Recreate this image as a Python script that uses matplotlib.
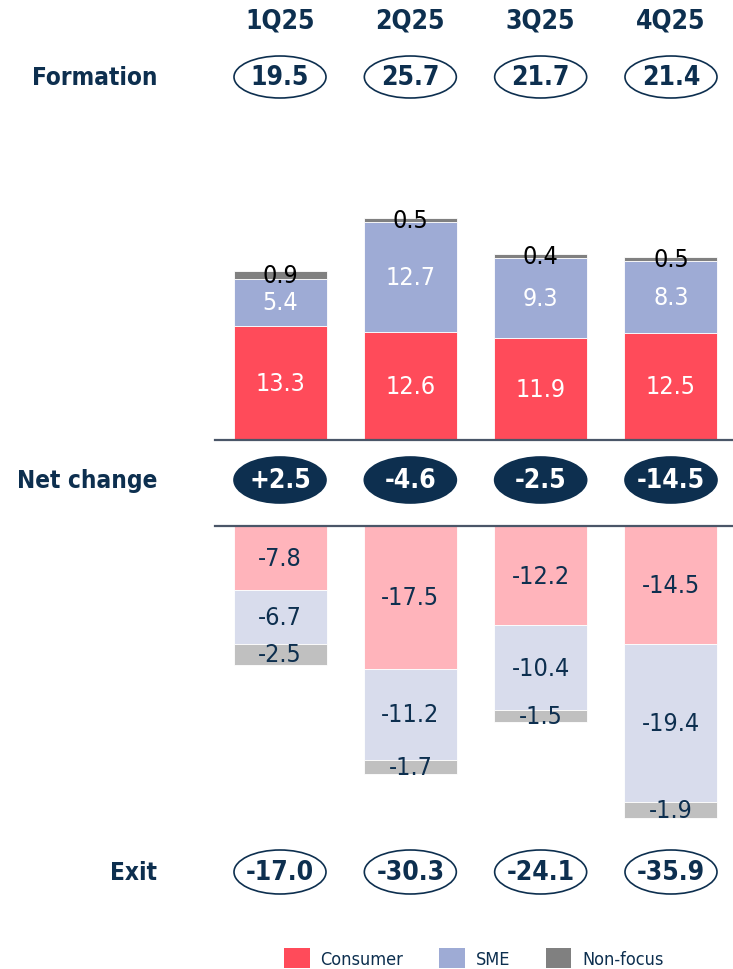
import numpy as np
import matplotlib
matplotlib.use("Agg")
import matplotlib.pyplot as plt
from matplotlib.patches import Ellipse, Patch
from matplotlib.transforms import blended_transform_factory

quarters = ["1Q25", "2Q25", "3Q25", "4Q25"]
formation_total = [19.5, 25.7, 21.7, 21.4]
form_consumer = [13.3, 12.6, 11.9, 12.5]
form_sme = [5.4, 12.7, 9.3, 8.3]
form_nonfocus = [0.9, 0.5, 0.4, 0.5]
net_change = [2.5, -4.6, -2.5, -14.5]
exit_total = [-17.0, -30.3, -24.1, -35.9]
exit_consumer = [-7.8, -17.5, -12.2, -14.5]
exit_sme = [-6.7, -11.2, -10.4, -19.4]
exit_nonfocus = [-2.5, -1.7, -1.5, -1.9]

NAVY = "#0d2f4f"
LINE = "#4a5668"
pos_colors = ["#ff4b5a", "#9eabd5", "#808080"]
neg_colors = ["#ffb4bb", "#d8dcec", "#c0c0c0"]

plt.rcParams["font.family"] = ["DejaVu Sans"]
plt.rcParams["font.stretch"] = "condensed"

W, H = 733, 970
fig = plt.figure(figsize=(W / 100, H / 100), dpi=100)


def px_rect(left, top, right, bottom):
    return [left / W, 1 - bottom / H, (right - left) / W, (bottom - top) / H]


ax_top = fig.add_axes(px_rect(215, 150, 733, 441))
ax_bot = fig.add_axes(px_rect(215, 527, 733, 840))

x = np.arange(len(quarters))
step = 130.33
xlim = (-(280 - 215) / step, (733 - 280) / step)
width = 93 / step

# formation (positive) stacks
bottom = np.zeros(len(x))
for vals, col, tcol in zip([form_consumer, form_sme, form_nonfocus], pos_colors,
                           ["white", "white", "black"]):
    vals = np.array(vals)
    ax_top.bar(x, vals, width, bottom=bottom, color=col, edgecolor="white", linewidth=0.6)
    for xi, b, v in zip(x, bottom, vals):
        ax_top.text(xi, b + v / 2, f"{v:.1f}", ha="center", va="center",
                    fontsize=18, color=tcol)
    bottom += vals

# exit (negative) stacks
bottom = np.zeros(len(x))
for vals, col in zip([exit_consumer, exit_sme, exit_nonfocus], neg_colors):
    vals = np.array(vals)
    ax_bot.bar(x, vals, width, bottom=bottom, color=col, edgecolor="white", linewidth=0.6)
    for xi, b, v in zip(x, bottom, vals):
        ax_bot.text(xi, b + v / 2, f"{v:.1f}", ha="center", va="center",
                    fontsize=18, color=NAVY)
    bottom += vals

ax_top.set_ylim(0, (441 - 150) / 8.6)
ax_bot.set_ylim(-(840 - 527) / 8.15, 0)
for ax in (ax_top, ax_bot):
    ax.set_xlim(*xlim)
    ax.axis("off")
ax_top.axhline(0, color=LINE, lw=1.6, clip_on=False)
ax_bot.axhline(0, color=LINE, lw=1.6, clip_on=False)

# rows of ellipses and labels
trans = blended_transform_factory(ax_top.transData, fig.transFigure)
ell_w = 92 / step


def fy(py):
    return 1 - py / H


for xi, q in zip(x, quarters):
    fig.text(xi, fy(21), q, transform=trans, ha="center", va="center",
             fontsize=19, fontweight="bold", color=NAVY)

rows = [
    ("Formation", 78, 42, [f"{v:.1f}" for v in formation_total], False),
    ("Net change", 481, 46, [f"{v:+.1f}" for v in net_change], True),
    ("Exit", 873, 44, [f"{v:.1f}" for v in exit_total], False),
]
for label, py, eh, texts, filled in rows:
    fig.text(157 / W, fy(py), label, ha="right", va="center",
             fontsize=17.5, fontweight="bold", color=NAVY)
    for xi, t in zip(x, texts):
        e = Ellipse((xi, fy(py)), ell_w, eh / H, transform=trans,
                    facecolor=NAVY if filled else "white", edgecolor=NAVY, lw=1.2)
        fig.add_artist(e)
        fig.text(xi, fy(py), t, transform=trans, ha="center", va="center",
                 fontsize=19, fontweight="bold", color="white" if filled else NAVY)

handles = [Patch(facecolor=c, edgecolor="none") for c in pos_colors]
fig.legend(handles, ["Consumer", "SME", "Non-focus"], loc="center",
           bbox_to_anchor=(474 / W, fy(959)), ncol=3, frameon=False,
           fontsize=13, labelcolor=NAVY, handlelength=1.4, handleheight=1.4,
           handletextpad=0.6, columnspacing=2.0)

fig.savefig("out.png", dpi=100)
